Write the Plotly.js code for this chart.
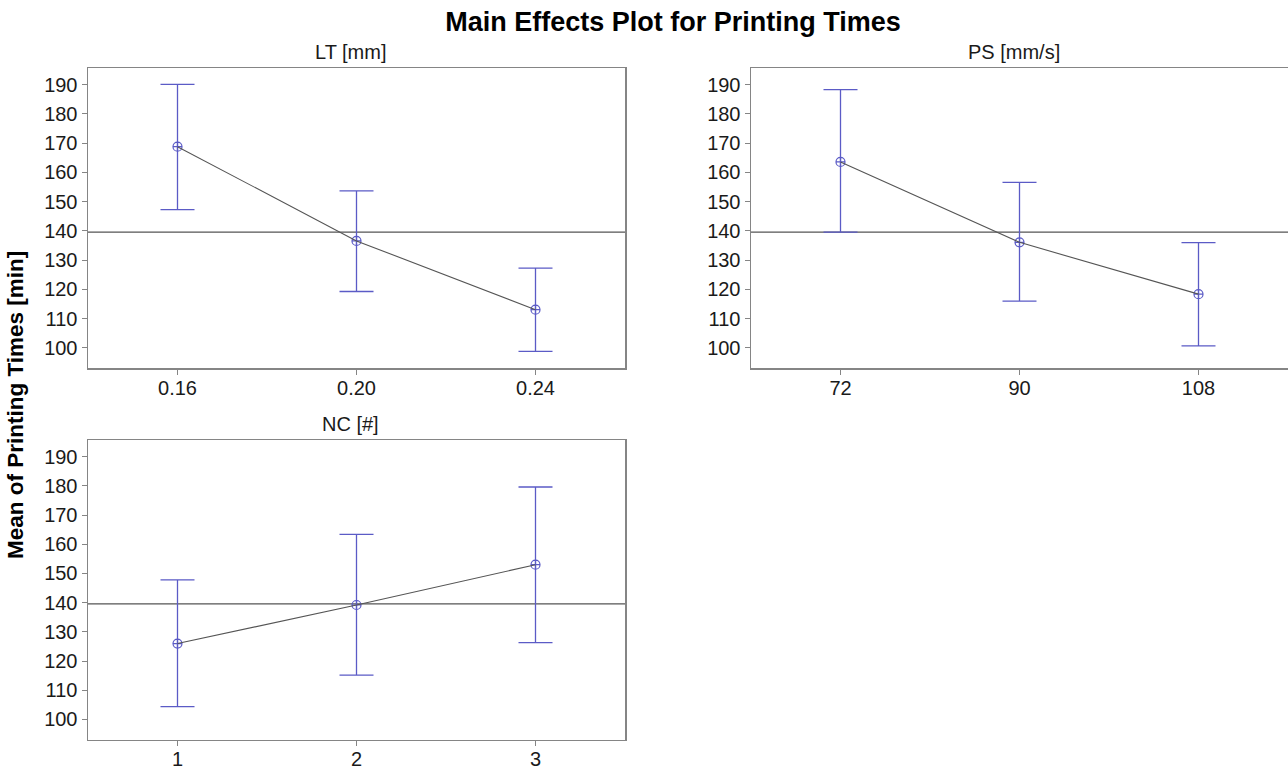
<!DOCTYPE html>
<html>
<head>
<meta charset="utf-8">
<script src="https://cdn.plot.ly/plotly-3.0.1.min.js"></script>
<style>html,body{margin:0;padding:0;background:#fff;}#chart{width:1288px;height:770px;}</style>
</head>
<body>
<div id="chart"></div>
<script>
// Data
const grandMean = 139.6;

const ltLevels = [0.16, 0.20, 0.24];
const ltMean   = [168.8, 136.6, 113.1];
const ltUpper  = [190.1, 153.7, 127.3];
const ltLower  = [147.3, 119.3, 98.8];

const psLevels = [72, 90, 108];
const psMean   = [163.6, 136.1, 118.4];
const psUpper  = [188.3, 156.6, 136.0];
const psLower  = [139.6, 116.0, 100.7];

const ncLevels = [1, 2, 3];
const ncMean   = [126.0, 139.2, 153.0];
const ncUpper  = [147.8, 163.4, 179.6];
const ncLower  = [104.4, 115.2, 126.3];

const ltTickText = ['0.16', '0.20', '0.24'];
const psTickText = ['72', '90', '108'];
const ncTickText = ['1', '2', '3'];

const panelTitles = ['LT [mm]', 'PS [mm/s]', 'NC [#]'];

const BLUE = '#5b5bc6';
const LINE = '#555555';
const FRAME = '#858585';
const FONT = 'Liberation Sans, Arial, sans-serif';

function panel(levels, mean, upper, lower, ax) {
  const xa = ax === 1 ? 'x' : 'x' + ax;
  const ya = ax === 1 ? 'y' : 'y' + ax;
  return [
    {
      x: levels, y: mean, xaxis: xa, yaxis: ya, type: 'scatter', mode: 'markers',
      marker: {symbol: 'circle-cross-open', size: 9, color: BLUE, line: {width: 1.2, color: BLUE}},
      error_y: {type: 'data', symmetric: false,
        array: upper.map((u, i) => u - mean[i]),
        arrayminus: lower.map((l, i) => mean[i] - l),
        color: BLUE, thickness: 1.3, width: 17},
      hoverinfo: 'x+y', showlegend: false
    },
    {
      x: levels, y: mean, xaxis: xa, yaxis: ya, type: 'scatter', mode: 'lines',
      line: {color: LINE, width: 1.1}, hoverinfo: 'skip', showlegend: false
    }
  ];
}

const data = [].concat(
  panel(ltLevels, ltMean, ltUpper, ltLower, 1),
  panel(psLevels, psMean, psUpper, psLower, 2),
  panel(ncLevels, ncMean, ncUpper, ncLower, 3)
);

const W = 1288, H = 770;
const dom = {
  x1: [88 / W, 625 / W],
  x2: [751 / W, 1288 / W],
  yTop: [1 - 368 / H, 1 - 68 / H],
  yBot: [1 - 739.5 / H, 1 - 440 / H]
};

function xaxis(domain, range, vals, text, anchor) {
  return {
    domain: domain, range: range, anchor: anchor,
    tickmode: 'array', tickvals: vals, ticktext: text,
    ticks: 'outside', ticklen: 5, tickwidth: 1, tickcolor: FRAME,
    ticklabelstandoff: -4,
    showline: true, linecolor: FRAME, linewidth: 1.5, mirror: true,
    showgrid: false, zeroline: false,
    tickfont: {family: FONT, size: 20, color: '#1a1a1a'}
  };
}
function yaxis(domain, anchor) {
  return {
    domain: domain, range: [93.15, 195.7], anchor: anchor,
    tickmode: 'array', tickvals: [100, 110, 120, 130, 140, 150, 160, 170, 180, 190],
    ticks: 'outside', ticklen: 5, tickwidth: 1, tickcolor: FRAME,
    showline: true, linecolor: FRAME, linewidth: 1.5, mirror: true,
    showgrid: false, zeroline: false,
    tickfont: {family: FONT, size: 20, color: '#1a1a1a'}
  };
}

function meanLine(xref, yref) {
  return {type: 'line', xref: xref + ' domain', yref: yref, x0: 0, x1: 1,
    y0: grandMean, y1: grandMean, line: {color: LINE, width: 1.1}, layer: 'below'};
}

function subTitle(text, xdom, ytop) {
  return {text: text, xref: 'paper', yref: 'paper',
    x: (xdom[0] + xdom[1]) / 2 - 6 / W, y: ytop + 3 / H, xanchor: 'center', yanchor: 'bottom',
    showarrow: false, font: {family: FONT, size: 20, color: '#1a1a1a'}};
}

const layout = {
  width: W, height: H,
  margin: {l: 0, r: 0, t: 0, b: 0},
  paper_bgcolor: '#ffffff', plot_bgcolor: '#ffffff',
  showlegend: false,
  title: {text: '<b>Main Effects Plot for Printing Times</b>', x: 673 / W, xanchor: 'center',
    y: 1 - 22 / H, yanchor: 'middle', font: {family: FONT, size: 27, color: '#000000'}},
  xaxis: xaxis(dom.x1, [0.14, 0.26], ltLevels, ltTickText, 'y'),
  yaxis: yaxis(dom.yTop, 'x'),
  xaxis2: xaxis(dom.x2, [63, 117], psLevels, psTickText, 'y2'),
  yaxis2: yaxis(dom.yTop, 'x2'),
  xaxis3: xaxis(dom.x1, [0.5, 3.5], ncLevels, ncTickText, 'y3'),
  yaxis3: yaxis(dom.yBot, 'x3'),
  shapes: [meanLine('x', 'y'), meanLine('x2', 'y2'), meanLine('x3', 'y3')],
  annotations: [
    subTitle(panelTitles[0], dom.x1, dom.yTop[1]),
    subTitle(panelTitles[1], dom.x2, dom.yTop[1]),
    subTitle(panelTitles[2], dom.x1, dom.yBot[1]),
    {text: '<b>Mean of Printing Times [min]</b>', xref: 'paper', yref: 'paper',
      x: 15 / W, y: 1 - 405 / H, xanchor: 'center', yanchor: 'middle', textangle: -90,
      showarrow: false, font: {family: FONT, size: 22.5, color: '#000000'}}
  ]
};

Plotly.newPlot('chart', data, layout, {displayModeBar: false, staticPlot: true});
</script>
</body>
</html>
